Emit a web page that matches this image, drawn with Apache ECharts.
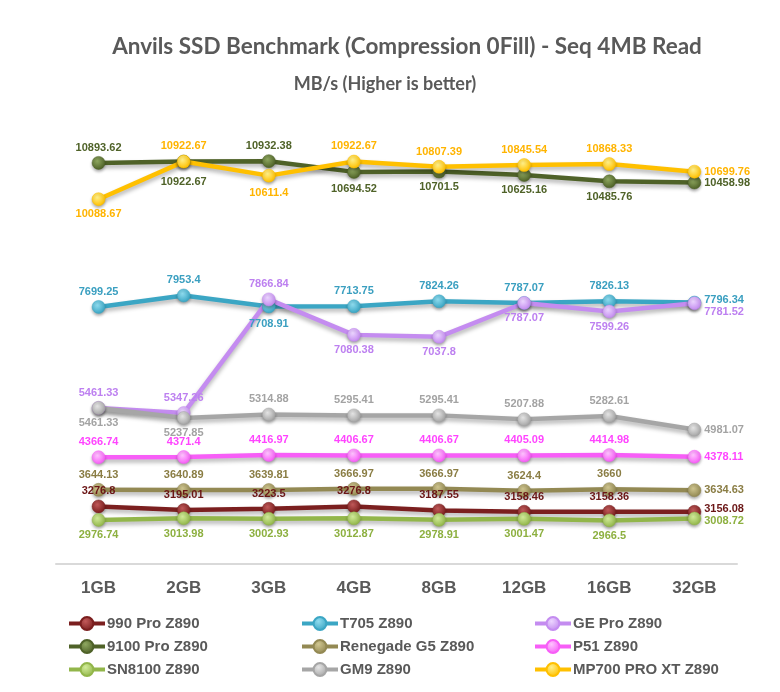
<!DOCTYPE html>
<html><head><meta charset="utf-8">
<script src="https://cdn.jsdelivr.net/npm/echarts@6/dist/echarts.min.js"></script>
<style>html,body{margin:0;padding:0;background:#fff}#c{width:780px;height:692px}</style>
</head><body><div id="c"></div>
<script>
const categories = ['1GB','2GB','3GB','4GB','8GB','12GB','16GB','32GB'];
const pro990 = [3276.8, 3195.01, 3223.5, 3276.8, 3187.55, 3158.46, 3158.36, 3156.08];
const t705 = [7699.25, 7953.4, 7708.91, 7713.75, 7824.26, 7787.07, 7826.13, 7796.34];
const gePro = [5461.33, 5347.26, 7866.84, 7080.38, 7037.8, 7787.07, 7599.26, 7781.52];
const pro9100 = [10893.62, 10922.67, 10932.38, 10694.52, 10701.5, 10625.16, 10485.76, 10458.98];
const renegadeG5 = [3644.13, 3640.89, 3639.81, 3666.97, 3666.97, 3624.4, 3660, 3634.63];
const p51 = [4366.74, 4371.4, 4416.97, 4406.67, 4406.67, 4405.09, 4414.98, 4378.11];
const sn8100 = [2976.74, 3013.98, 3002.93, 3012.87, 2978.91, 3001.47, 2966.5, 3008.72];
const gm9 = [5461.33, 5237.85, 5314.88, 5295.41, 5295.41, 5207.88, 5282.61, 4981.07];
const mp700 = [10088.67, 10922.67, 10611.4, 10922.67, 10807.39, 10845.54, 10868.33, 10699.76];

// style config (draw order: later on top)
const styles = [
  {name:'990 Pro Z890', data:pro990, color:'#7b1f1f', light:'#c25a5a', label:'#6b1616', pos:'TTTTTTTR', dy:[0,0,0,0,0,0,0,-3]},
  {name:'9100 Pro Z890', data:pro9100, color:'#4f6228', light:'#8fa860', label:'#4f6228', pos:'TBTBBBBR', dy:[0,5,0,2,0,0,0,0]},
  {name:'SN8100 Z890', data:sn8100, color:'#92b64a', light:'#d2ec9a', label:'#8db040', pos:'BBBBBBBR', dy:[0,0,0,0,0,0,0,2]},
  {name:'T705 Z890', data:t705, color:'#3ba6c4', light:'#8fdcef', label:'#3a9fc0', pos:'TTBTTTTR', dy:[0,0,2,0,0,0,0,-3]},
  {name:'GE Pro Z890', data:gePro, color:'#c48cf0', light:'#ecd6ff', label:'#bd80f0', pos:'TTTBBBBR', dy:[0,0,0,0,0,0,0,9]},
  {name:'GM9 Z890', data:gm9, color:'#a6a6a6', light:'#e6e6e6', label:'#a3a3a3', pos:'BBTTTTTR', dy:[0,0,0,0,0,0,0,0]},
  {name:'Renegade G5 Z890', data:renegadeG5, color:'#938953', light:'#d0c690', label:'#8a7d44', pos:'TTTTTTTR', dy:[0,0,0,0,0,0,0,0]},
  {name:'P51 Z890', data:p51, color:'#f75ef7', light:'#ffc4ff', label:'#ff44ff', pos:'TTTTTTTR', dy:[0,0,0,0,0,0,0,0]},
  {name:'MP700 PRO XT Z890', data:mp700, color:'#ffc000', light:'#fff08a', label:'#ffb400', pos:'BTBTTTTR', dy:[0,0,2,0,0,0,0,0]}
];
const posMap = {T:'top', B:'bottom', R:'right'};

const series = styles.map(s => ({
  name: s.name,
  type: 'line',
  data: s.data.map((v, i) => ({
    value: v,
    label: {position: posMap[s.pos[i]], offset: [0, s.dy[i]]}
  })),
  symbol: 'circle',
  symbolSize: 13,
  lineStyle: {color: s.color, width: 4.5, shadowColor: 'rgba(0,0,0,0.3)', shadowBlur: 4, shadowOffsetY: 3},
  itemStyle: {
    color: {type:'radial', x:0.4, y:0.35, r:0.65, colorStops:[{offset:0,color:s.light},{offset:1,color:s.color}]},
    borderColor: s.color, borderWidth: 0.5,
    shadowColor: 'rgba(0,0,0,0.3)', shadowBlur: 3, shadowOffsetY: 2
  },
  label: {show: true, distance: 3, color: s.label, fontSize: 11, fontWeight: 'bold', fontFamily: 'Liberation Sans, Arial, sans-serif'},
  emphasis: {disabled: true},
  animation: false
}));

const legendBase = {
  orient: 'vertical', top: 611, itemGap: 8, itemWidth: 36, itemHeight: 16,
  lineStyle: {width: 4},
  textStyle: {fontSize: 15, fontWeight: 'bold', color: '#595959', fontFamily: 'Liberation Sans, Arial, sans-serif', padding: [0,0,0,-3]}
};

const chart = echarts.init(document.getElementById('c'), null, {renderer: 'canvas'});
chart.setOption({
  backgroundColor: '#fff',
  animation: false,
  graphic: [
    {type:'text', x:407, y:47, style:{text:'Anvils SSD Benchmark (Compression 0Fill) - Seq 4MB Read', font:'bold 22.5px Lato', fill:'#595959', align:'center', verticalAlign:'middle'}},
    {type:'text', x:385, y:84, style:{text:'MB/s (Higher is better)', font:'bold 18px Lato', fill:'#595959', align:'center', verticalAlign:'middle'}}
  ],
  grid: {left: 56, right: 43, top: 113, bottom: 128},
  xAxis: {
    type: 'category', data: categories, boundaryGap: true,
    axisLine: {lineStyle: {color: '#d9d9d9', width: 2}},
    axisTick: {show: false},
    axisLabel: {fontSize: 17, fontWeight: 'bold', color: '#595959', margin: 16, fontFamily: 'Liberation Sans, Arial, sans-serif'}
  },
  yAxis: {type: 'value', min: 2000, max: 12000, interval: 2000, show: false, splitLine: {show: false}},
  legend: [
    Object.assign({left: 62, data: ['990 Pro Z890','9100 Pro Z890','SN8100 Z890']}, legendBase),
    Object.assign({left: 295, data: ['T705 Z890','Renegade G5 Z890','GM9 Z890']}, legendBase),
    Object.assign({left: 528, data: ['GE Pro Z890','P51 Z890','MP700 PRO XT Z890']}, legendBase)
  ],
  series: series
});
</script></body></html>
